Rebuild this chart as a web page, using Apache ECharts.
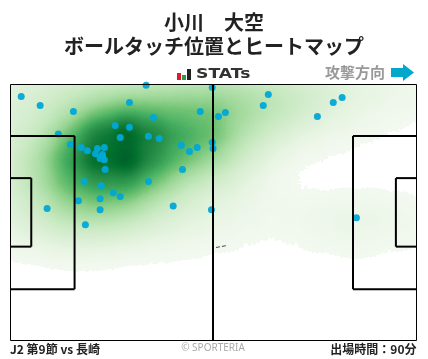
<!DOCTYPE html>
<html><head><meta charset="utf-8">
<style>html,body{margin:0;padding:0;background:#fff}#c{width:428px;height:359px}</style>
<script src="https://cdn.jsdelivr.net/npm/echarts@6/dist/echarts.min.js"></script>
</head><body><div id="c"></div>
<script>
const touches = [[2.9,64.7],[7.8,62.3],[16.4,60.7],[30.9,63.1],[35.2,67.7],[49.2,60.7],[37.1,59.1],[52.3,67.1],[27.2,57.0],[30.9,56.5],[12.5,54.7],[28.5,53.8],[35.8,54.1],[38.6,53.5],[15.6,51.9],[18.4,51.1],[20.0,50.3],[22.6,50.9],[24.4,51.1],[22.1,49.5],[23.9,49.3],[23.9,48.7],[23.3,48.2],[24.4,47.9],[24.6,45.3],[44.3,51.7],[46.4,50.1],[48.4,51.1],[52.3,52.5],[52.5,50.9],[44.6,45.3],[19.2,42.1],[35.8,42.1],[23.6,41.0],[26.7,39.1],[28.5,38.1],[23.3,37.5],[17.7,37.0],[9.6,34.9],[23.3,34.6],[42.2,35.6],[52.1,34.6],[19.5,30.6],[66.8,65.2],[65.5,62.3],[85.9,64.4],[83.6,63.1],[79.5,59.4],[55.7,60.4],[53.9,59.4],[89.6,32.5]];
const heatX = [0,7.5,15,22.5,30,37.5,45,52.5,60,67.5,75,82.5,90,97.5,105];
const heatY = [68,61.3,54.7,48,41.3,34.7,28,21.3];
const heatValues = [
 [12,14,18,20,22,24,26,28,26,22,18,14,10,7,5],
 [12,16,24,34,42,42,42,42,34,27,20,12,8,5,4],
 [14,22,42,74,96,72,55,48,28,17,9,6,4,2,0],
 [16,30,58,92,100,64,46,34,18,8,3,1,0,0,0],
 [16,28,48,58,56,40,24,15,9,4,1,0,0,0,0],
 [12,20,32,36,32,20,13,9,7,5,5,6,7,6,4],
 [8,12,16,16,13,10,8,6,4,2.5,4,6,7,5,4],
 [1,2,3,3,2,1.5,1,0.5,0,0,0,0.5,1,0.5,0]
];
const rampColors = ['#f4faf2','#f1f8ee','#ecf6e8','#e5f4e0','#def1d9','#d8eed2','#d0ebca','#c7e9c0','#bce4b5','#b0dfaa','#a1d99b','#8dd08b','#74c476','#5cb96a','#41ab5d','#329b51','#238b45','#117c38','#006d2c','#005a28','#00441b'];
const pitchSegments = [[52.5,0,52.5,68],[0,13.5,16.7,13.5],[16.7,13.5,16.7,54.2],[0,54.2,16.7,54.2],[0,24.8,5.5,24.8],[5.5,24.8,5.5,43],[0,43,5.5,43],[105,13.5,88.7,13.5],[88.7,13.5,88.7,54.2],[105,54.2,88.7,54.2],[105,24.8,99.8,24.8],[99.8,24.8,99.8,43],[105,43,99.8,43]];
const heatData = [];
heatY.forEach((y,r)=>heatX.forEach((x,c)=>heatData.push([x,y,heatValues[r][c]])));
echarts.registerMap('pitch',{type:'FeatureCollection',features:[{type:'Feature',properties:{name:'pitch'},geometry:{type:'Polygon',coordinates:[[[0,0],[105,0],[105,68],[0,68],[0,0]]]}}]});
const chart = echarts.init(document.getElementById('c'),null,{renderer:'canvas'});
const F='"Noto Sans CJK JP","Noto Sans",sans-serif';
chart.setOption({
 animation:false,backgroundColor:'#fff',
 title:[
  {text:'小川　大空',left:'center',top:7,textStyle:{fontFamily:F,fontSize:20,fontWeight:'bold',color:'#222'}},
  {text:'ボールタッチ位置とヒートマップ',left:'center',top:31,textStyle:{fontFamily:F,fontSize:20,fontWeight:'bold',color:'#222'}}
 ],
 geo:{map:'pitch',left:10,top:84,width:406,height:256,silent:true,roam:false,label:{show:false},itemStyle:{areaColor:'transparent',borderWidth:0},emphasis:{disabled:true}},
 grid:{left:10,top:84,width:406,height:256,show:false},
 xAxis:{type:'value',min:0,max:105,show:false},
 yAxis:{type:'value',min:0,max:68,show:false},
 visualMap:{show:false,type:'continuous',seriesIndex:0,min:0,max:100,range:[3,100],calculable:false,
  inRange:{color:rampColors},outOfRange:{color:'rgba(255,255,255,0)'}},
 series:[
  {type:'heatmap',coordinateSystem:'geo',geoIndex:0,data:heatData,pointSize:22,blurSize:24,minOpacity:1,maxOpacity:1,z:1,silent:true},
  {type:'scatter',data:touches,symbolSize:7,itemStyle:{color:'#00a8d6',opacity:0.95},z:3,silent:true,clip:true},
  {type:'custom',data:pitchSegments,z:4,silent:true,clip:false,renderItem:(p,api)=>{
    const a=api.coord([api.value(0),api.value(1)]),b=api.coord([api.value(2),api.value(3)]);
    return {type:'line',shape:{x1:a[0],y1:a[1],x2:b[0],y2:b[1]},style:{stroke:'#000',lineWidth:2}};
  },encode:{x:[0,2],y:[1,3]}}
 ],
 graphic:[
  {type:'rect',z:10,shape:{x:10.5,y:84.5,width:406,height:256},style:{fill:'none',stroke:'#000',lineWidth:1}},
  {type:'line',z:10,shape:{x1:216,y1:247.5,x2:227,y2:245.5},style:{stroke:'#000',lineWidth:0.7,lineDash:[4,2]}},
  {type:'rect',z:10,shape:{x:177,y:73,width:4,height:7},style:{fill:'#e0182d'}},
  {type:'rect',z:10,shape:{x:182,y:75,width:4,height:5},style:{fill:'#2d9b45'}},
  {type:'rect',z:10,shape:{x:187,y:69,width:4,height:11},style:{fill:'#222'}},
  {type:'text',z:10,x:196,y:74,scaleX:1.23,style:{x:0,y:0,text:'STATs',font:'bold 14px "DejaVu Sans"',fill:'#333',textVerticalAlign:'middle'}},
  {type:'text',z:10,style:{x:325,y:72,text:'攻撃方向',font:'bold 15px "Noto Sans CJK JP"',fill:'#999',textVerticalAlign:'middle'}},
  {type:'polygon',z:10,shape:{points:[[391,68],[403,68],[403,64],[414,72.5],[403,81],[403,77],[391,77]]},style:{fill:'#00a8cc'}},
  {type:'text',z:10,style:{x:10,y:349,text:'J2 第9節 vs 長崎',font:'bold 12px "Noto Sans CJK JP"',fill:'#222',textVerticalAlign:'middle'}},
  {type:'text',z:10,style:{x:213,y:348,text:'© SPORTERIA',font:'10px "Noto Sans"',fill:'#aaa',textAlign:'center',textVerticalAlign:'middle'}},
  {type:'text',z:10,style:{x:416.5,y:349,text:'出場時間：90分',font:'bold 12px "Noto Sans CJK JP"',fill:'#222',textAlign:'right',textVerticalAlign:'middle'}}
 ]
});
</script></body></html>
